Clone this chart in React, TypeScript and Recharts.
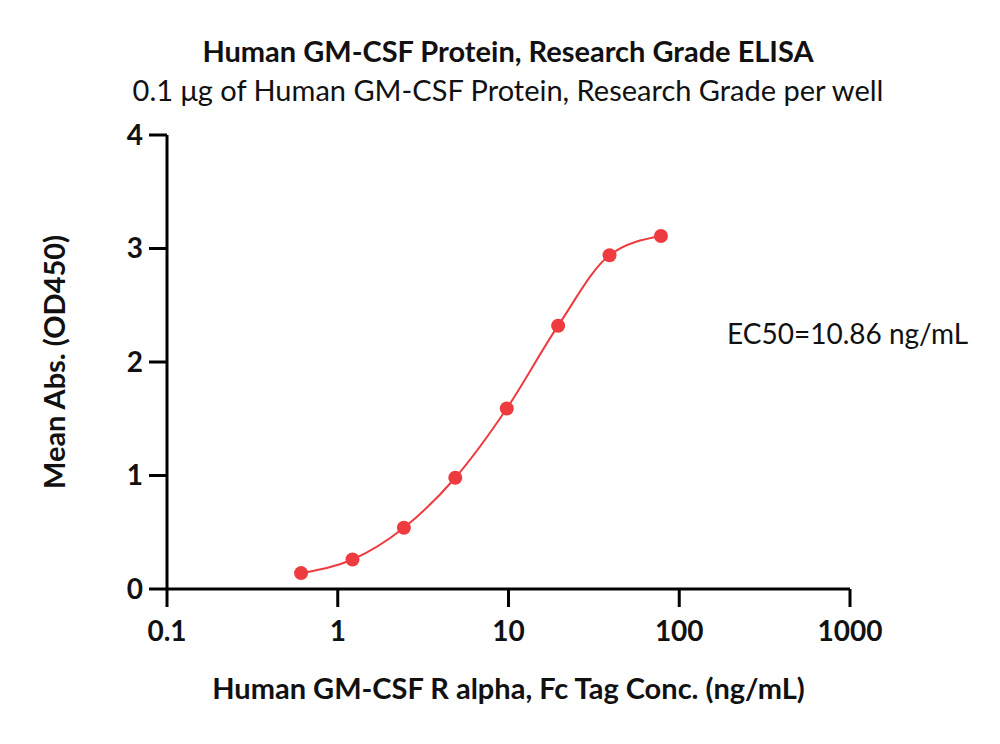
import { LineChart, Line, XAxis, YAxis, Label } from 'recharts'

const concentrations = [0.61, 1.22, 2.44, 4.88, 9.77, 19.53, 39.06, 78.13]
const meanAbs = [0.14, 0.26, 0.54, 0.98, 1.59, 2.32, 2.94, 3.11]
const xTicks = [0.1, 1, 10, 100, 1000]
const yTicks = [0, 1, 2, 3, 4]

const data = concentrations.map((c, i) => ({ conc: c, abs: meanAbs[i] }))

const FONT = 'Lato, "Open Sans", sans-serif'
const RED = '#EE3B3F'

export default function App() {
  return (
    <div style={{ position: 'absolute', left: 0, top: 0, width: 1000, height: 744, background: '#fff', fontFamily: FONT }}>
      <div style={{ position: 'absolute', left: 0, width: 1016, top: 33, textAlign: 'center', fontSize: 29, fontWeight: 700, color: '#111', lineHeight: '36px' }}>
        Human GM-CSF Protein, Research Grade ELISA
      </div>
      <div style={{ position: 'absolute', left: 0, width: 1016, top: 72, textAlign: 'center', fontSize: 29, color: '#111', lineHeight: '36px' }}>
        0.1 μg of Human GM-CSF Protein, Research Grade per well
      </div>
      <div style={{ position: 'absolute', left: 727, top: 315, fontSize: 28, color: '#111', lineHeight: '36px' }}>
        EC50=10.86 ng/mL
      </div>
      <LineChart
        width={1000}
        height={744}
        data={data}
        margin={{ top: 135, right: 150, left: 47, bottom: 35 }}
      >
        <XAxis
          dataKey="conc"
          type="number"
          scale="log"
          domain={[0.1, 1000]}
          ticks={xTicks}
          allowDataOverflow
          height={120}
          tickSize={18}
          tickMargin={14}
          stroke="#000"
          strokeWidth={3}
          tick={{ fill: '#111', fontSize: 28, fontWeight: 700, fontFamily: FONT }}
          tickFormatter={(v: number) => String(v)}
        >
          <Label
            value="Human GM-CSF R alpha, Fc Tag Conc. (ng/mL)"
            position="insideBottom"
            offset={10}
            style={{ fill: '#111', fontSize: 29, fontWeight: 700, fontFamily: FONT }}
          />
        </XAxis>
        <YAxis
          type="number"
          domain={[0, 4]}
          ticks={yTicks}
          width={120}
          tickSize={18}
          tickMargin={6}
          stroke="#000"
          strokeWidth={3}
          tick={{ fill: '#111', fontSize: 28, fontWeight: 700, fontFamily: FONT }}
        >
          <Label
            value="Mean Abs. (OD450)"
            angle={-90}
            position="insideLeft"
            offset={8}
            style={{ fill: '#111', fontSize: 29, fontWeight: 700, fontFamily: FONT, textAnchor: 'middle' }}
          />
        </YAxis>
        <Line
          type="monotone"
          dataKey="abs"
          stroke={RED}
          strokeWidth={2}
          dot={{ r: 7, fill: RED, stroke: RED, strokeWidth: 0 }}
          activeDot={false}
          isAnimationActive={false}
        />
      </LineChart>
    </div>
  )
}
